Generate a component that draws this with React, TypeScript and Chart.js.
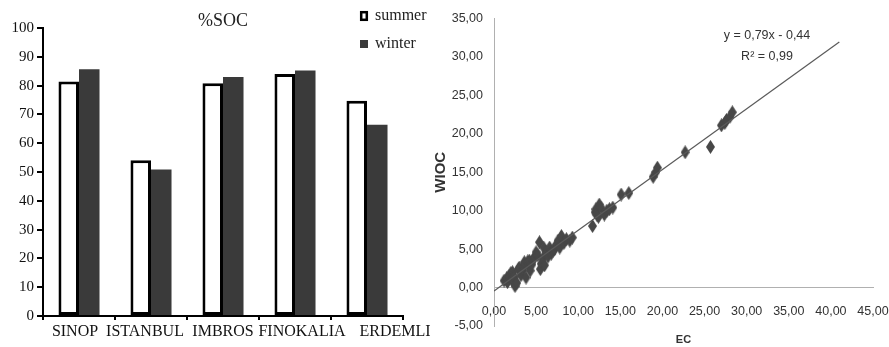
import React, { useEffect, useRef } from "react";
import { Chart, registerables } from "chart.js";

Chart.register(...registerables);

// ---- Left chart data (%SOC) ----
const SITES = ["SINOP", "ISTANBUL", "IMBROS", "FINOKALIA", "ERDEMLI"];
const SUMMER = [81.4, 54.1, 80.8, 84.0, 74.7];
const WINTER = [85.7, 50.9, 83.0, 85.2, 66.4];
const SOC_TITLE = "%SOC";
const SERIES_NAMES = ["summer", "winter"];

// ---- Right chart data (WIOC vs EC) ----
const EC = [
  1.2, 1.5, 1.6, 1.8, 2.0, 2.1, 2.2, 2.4, 2.5, 2.7, 2.9, 3.0, 3.2,
  3.4, 3.5, 3.6, 3.8, 4.0, 4.0, 4.2, 4.3, 4.5, 4.6, 4.8, 5.0, 5.2,
  5.4, 5.5, 5.6, 5.8, 5.9, 6.0, 6.2, 6.4, 6.6, 6.8, 7.0, 7.2, 7.4,
  7.6, 7.8, 8.0, 8.3, 8.6, 9.0, 9.3,
  11.7, 12.0, 12.1, 12.2, 12.4, 12.5, 12.7, 13.1, 13.4, 13.7, 14.1,
  15.1, 16.0,
  18.9, 19.2, 19.4,
  22.7, 25.7,
  27.0, 27.4, 27.6, 28.0, 28.3,
];
const WIOC = [
  0.9, 1.2, 0.7, 1.5, 1.9, 1.0, 2.0, 1.4, 0.2, 0.6, 2.4, 2.6, 1.6,
  2.2, 2.8, 3.3, 1.3, 2.9, 3.4, 3.5, 2.2, 3.0, 3.6, 3.9, 4.6, 4.2,
  5.9, 2.4, 3.1, 3.8, 5.2, 2.9, 4.6, 4.0, 5.2, 4.4, 4.8, 5.0, 5.6,
  6.1, 5.2, 6.7, 5.8, 6.3, 6.1, 6.5,
  8.0, 9.8, 10.2, 9.5, 9.2, 10.8, 10.4, 9.5, 10.0, 10.2, 10.4,
  12.1, 12.3,
  14.4, 15.0, 15.6,
  17.6, 18.3,
  21.1, 21.4, 21.8, 22.2, 22.8,
];
const FIT_X = [0, 41];
const FIT_Y = [-0.44, 31.95];
const FIT_EQUATION = "y = 0,79x - 0,44";
const FIT_R2 = "R² = 0,99";
const X_TITLE = "EC";
const Y_TITLE = "WIOC";

// per-label horizontal nudges (px) for the category labels, layout only
const LABEL_NUDGE = [-4, -6, 0, 7, 28];

const SERIF = "'Liberation Serif', 'Times New Roman', serif";
const SANS = "'Liberation Sans', Arial, sans-serif";

const fmt = (v: number) => Number(v).toFixed(2).replace(".", ",");

export default function App() {
  const leftRef = useRef<HTMLCanvasElement>(null);
  const rightRef = useRef<HTMLCanvasElement>(null);

  useEffect(() => {
    // ---------- left: bar chart ----------
    const nudgePlugin = {
      id: "nudgeLabels",
      beforeDraw(chart: any) {
        const sc = chart.scales.x;
        const items = sc.getLabelItems();
        if (items._nudged) return;
        items._nudged = true;
        items.forEach((it: any, i: number) => {
          it.options.translation[0] += LABEL_NUDGE[i] || 0;
        });
      },
    };
    const decorPlugin = {
      id: "socDecor",
      afterDraw(chart: any) {
        const { ctx, chartArea } = chart;
        ctx.save();
        ctx.fillStyle = "#222";
        ctx.font = `18px ${SERIF}`;
        ctx.textAlign = "center";
        ctx.textBaseline = "middle";
        ctx.fillText(SOC_TITLE, (chartArea.left + chartArea.right) / 2, 21);
        // legend
        ctx.font = `16px ${SERIF}`;
        ctx.textAlign = "left";
        ctx.fillStyle = "#fff";
        ctx.fillRect(361, 12, 6, 8);
        ctx.strokeStyle = "#000";
        ctx.lineWidth = 2.5;
        ctx.strokeRect(361.2, 12.2, 5.6, 7.6);
        ctx.fillStyle = "#222";
        ctx.fillText(SERIES_NAMES[0], 375, 16);
        ctx.fillStyle = "#3a3a3a";
        ctx.fillRect(360, 40, 8, 8);
        ctx.fillStyle = "#222";
        ctx.fillText(SERIES_NAMES[1], 375, 44);
        ctx.restore();
      },
    };

    const left = new Chart(leftRef.current!, {
      type: "bar",
      data: {
        labels: SITES,
        datasets: [
          {
            label: SERIES_NAMES[0],
            data: SUMMER,
            backgroundColor: "#ffffff",
            borderColor: "#000000",
            borderWidth: 3,
            borderSkipped: false,
            categoryPercentage: 0.57,
            barPercentage: 1,
          },
          {
            label: SERIES_NAMES[1],
            data: WINTER,
            backgroundColor: "#3a3a3a",
            borderWidth: 0,
            categoryPercentage: 0.57,
            barPercentage: 1,
          },
        ],
      },
      options: {
        responsive: false,
        animation: false,
        devicePixelRatio: 1,
        layout: { padding: { left: 0, top: 28, right: 37, bottom: 0 } },
        plugins: { legend: { display: false }, title: { display: false }, tooltip: { enabled: false } },
        scales: {
          x: {
            offset: true,
            grid: { offset: true, drawOnChartArea: false, color: "#000", lineWidth: 2, tickLength: 4 },
            border: { color: "#000", width: 2 },
            ticks: {
              font: { family: SERIF, size: 16 },
              color: "#111",
              autoSkip: false,
              maxRotation: 0,
              minRotation: 0,
              padding: 2,
            },
            afterFit: (s: any) => {
              s.height = 31;
            },
          },
          y: {
            min: 0,
            max: 100,
            ticks: { stepSize: 10, font: { family: SERIF, size: 15 }, color: "#111", padding: 3 },
            grid: { drawOnChartArea: false, color: "#000", lineWidth: 2, tickLength: 6 },
            border: { color: "#000", width: 2 },
            afterFit: (s: any) => {
              s.width = 43;
            },
          },
        },
      },
      plugins: [nudgePlugin, decorPlugin],
    } as any);

    // ---------- right: scatter ----------
    const diamond = document.createElement("canvas");
    diamond.width = 9;
    diamond.height = 14;
    const dc = diamond.getContext("2d")!;
    dc.fillStyle = "#474747";
    dc.beginPath();
    dc.moveTo(4.5, 0);
    dc.lineTo(9, 7);
    dc.lineTo(4.5, 14);
    dc.lineTo(0, 7);
    dc.closePath();
    dc.fill();

    const eqPlugin = {
      id: "eqText",
      afterDraw(chart: any) {
        const { ctx } = chart;
        ctx.save();
        ctx.fillStyle = "#333";
        ctx.font = `12.5px ${SANS}`;
        ctx.textAlign = "center";
        ctx.textBaseline = "middle";
        ctx.fillText(FIT_EQUATION, 339, 36);
        ctx.fillText(FIT_R2, 339, 57);
        ctx.restore();
      },
    };

    const right = new Chart(rightRef.current!, {
      type: "scatter",
      data: {
        datasets: [
          {
            label: "fit",
            data: FIT_X.map((x, i) => ({ x, y: FIT_Y[i] })),
            showLine: true,
            borderColor: "#5a5a5a",
            borderWidth: 1.2,
            pointRadius: 0,
            fill: false,
          },
          {
            label: Y_TITLE,
            data: EC.map((x, i) => ({ x, y: WIOC[i] })),
            pointStyle: diamond,
            pointRadius: 6,
            backgroundColor: "#474747",
            borderWidth: 0,
          },
        ],
      },
      options: {
        responsive: false,
        animation: false,
        devicePixelRatio: 1,
        layout: { padding: { left: 0, top: 16, right: 16, bottom: 0 } },
        plugins: { legend: { display: false }, title: { display: false }, tooltip: { enabled: false } },
        scales: {
          x: {
            type: "linear",
            position: { y: 0 },
            min: 0,
            max: 45,
            ticks: {
              stepSize: 5,
              callback: (v: any) => fmt(v),
              font: { family: SANS, size: 12.5 },
              color: "#333",
              padding: 16,
              autoSkip: false,
              maxRotation: 0,
              minRotation: 0,
            },
            grid: { display: false, drawTicks: false },
            border: { color: "#b0b0b0", width: 1 },
            afterFit: (s: any) => {
              s.paddingLeft = 0;
              s.paddingRight = 0;
            },
          },
          x2: {
            type: "linear",
            axis: "x",
            position: "bottom",
            min: 0,
            max: 45,
            ticks: { display: false },
            grid: { display: false, drawTicks: false },
            border: { display: false },
            title: {
              display: true,
              text: X_TITLE,
              font: { family: SANS, size: 11, weight: "bold" },
              color: "#333",
              padding: 0,
            },
            afterFit: (s: any) => {
              s.height = 21;
              s.paddingLeft = 0;
              s.paddingRight = 0;
            },
          },
          y: {
            type: "linear",
            min: -5,
            max: 35,
            ticks: {
              stepSize: 5,
              callback: (v: any) => fmt(v),
              font: { family: SANS, size: 12.5 },
              color: "#333",
              padding: 11,
            },
            grid: { display: false, drawTicks: false },
            border: { color: "#b0b0b0", width: 1 },
            title: {
              display: true,
              text: Y_TITLE,
              font: { family: SANS, size: 15, weight: "bold" },
              color: "#333",
              padding: { top: 4, bottom: 0 },
            },
            afterFit: (s: any) => {
              s.width = 66;
            },
          },
        },
      },
      plugins: [eqPlugin],
    } as any);

    return () => {
      left.destroy();
      right.destroy();
    };
  }, []);

  return (
    <div style={{ position: "absolute", left: 0, top: 0, width: 889, height: 347, background: "#fff" }}>
      <canvas
        ref={leftRef}
        width={440}
        height={347}
        style={{ position: "absolute", left: 0, top: 0, width: 440, height: 347 }}
      />
      <canvas
        ref={rightRef}
        width={461}
        height={347}
        style={{ position: "absolute", left: 428, top: 0, width: 461, height: 347 }}
      />
    </div>
  );
}
